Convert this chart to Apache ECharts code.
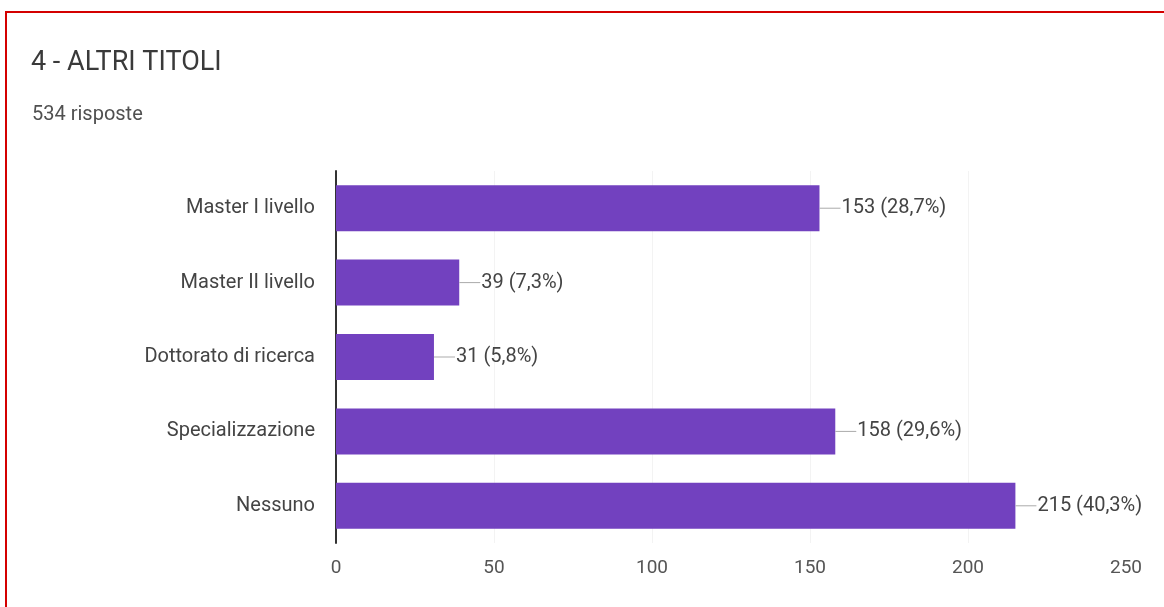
<!DOCTYPE html>
<html><head><meta charset="utf-8">
<script src="https://cdn.jsdelivr.net/npm/echarts@6/dist/echarts.min.js"></script>
<style>
html,body{margin:0;padding:0;width:1164px;height:607px;overflow:hidden;background:#fff;}
#frame{position:absolute;left:5px;top:11px;width:1300px;height:800px;border:2px solid #d40000;box-sizing:border-box;}
#main{position:absolute;left:0;top:0;width:1164px;height:607px;}
</style></head>
<body>
<div id="frame"></div>
<div id="main"></div>
<script>
const titleText = '4 - ALTRI TITOLI';
const subtitleText = '534 risposte';
const categories = ['Master I livello','Master II livello','Dottorato di ricerca','Specializzazione','Nessuno'];
const values = [153, 39, 31, 158, 215];
const percents = ['28,7%','7,3%','5,8%','29,6%','40,3%'];
const xTicks = [0, 50, 100, 150, 200, 250];

const chart = echarts.init(document.getElementById('main'), null, {renderer:'canvas'});
chart.setOption({
  animation:false,
  textStyle:{fontFamily:'Roboto'},
  title:[{
    text:titleText, left:26, top:45,
    textStyle:{fontFamily:'Roboto',fontSize:27,fontWeight:'normal',color:'#3a3a3a'}
  },{
    text:subtitleText, left:27, top:100,
    textStyle:{fontFamily:'Roboto',fontSize:20,fontWeight:'normal',color:'#505050'}
  }],
  grid:{left:336, right:38, top:171, bottom:64, containLabel:false},
  xAxis:{
    type:'value', min:xTicks[0], max:xTicks[xTicks.length-1], interval:50,
    axisLine:{show:false}, axisTick:{show:false},
    axisLabel:{fontFamily:'Roboto',fontSize:19,color:'#555',margin:16},
    splitLine:{show:true,showMaxLine:false,lineStyle:{color:'#f3f3f3',width:1}}
  },
  yAxis:{
    type:'category', data:categories, inverse:true,
    axisLine:{show:true,lineStyle:{color:'#333',width:2}},
    axisTick:{show:false},
    axisLabel:{fontFamily:'Roboto',fontSize:20,color:'#444',margin:21}
  },
  series:[{
    type:'bar',
    data:values,
    barWidth:46,
    itemStyle:{color:'#7241bf'},
    label:{
      show:true, position:'right', distance:0,
      formatter:function(p){return '{d|}{v|' + values[p.dataIndex] + ' (' + percents[p.dataIndex] + ')}';},
      rich:{
        d:{width:21,height:1,backgroundColor:'#aaa'},
        v:{fontFamily:'Roboto',fontSize:20,color:'#444',padding:[0,0,0,1]}
      }
    }
  }]
});
</script>
</body></html>
